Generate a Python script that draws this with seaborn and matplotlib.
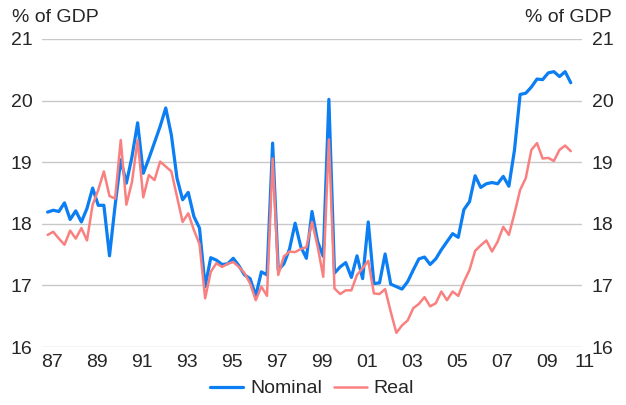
import pandas as pd
import seaborn as sns
import matplotlib.pyplot as plt

# quarterly spending, % of GDP, 1987Q1 - 2010Q2
nominal = [18.19, 18.22, 18.20, 18.34, 18.07, 18.21, 18.03, 18.25, 18.58, 18.30,
           18.30, 17.48, 18.30, 19.04, 18.66, 19.09, 19.64, 18.82, 19.06, 19.32,
           19.58, 19.88, 19.44, 18.74, 18.39, 18.51, 18.12, 17.93, 16.98, 17.45,
           17.41, 17.34, 17.35, 17.44, 17.32, 17.17, 17.11, 16.83, 17.22, 17.17,
           19.31, 17.25, 17.35, 17.59, 18.01, 17.63, 17.44, 18.20, 17.71, 17.47,
           20.02, 17.20, 17.30, 17.37, 17.13, 17.48, 17.11, 18.03, 17.03, 17.04,
           17.51, 17.02, 16.98, 16.94, 17.06, 17.25, 17.43, 17.46, 17.34, 17.43,
           17.58, 17.71, 17.84, 17.78, 18.23, 18.36, 18.78, 18.59, 18.65, 18.67,
           18.65, 18.77, 18.61, 19.20, 20.10, 20.12, 20.22, 20.35, 20.34, 20.45,
           20.47, 20.39, 20.47, 20.29]
real = [17.82, 17.87, 17.76, 17.66, 17.89, 17.76, 17.93, 17.73, 18.31, 18.55,
        18.85, 18.45, 18.41, 19.36, 18.31, 18.68, 19.36, 18.43, 18.79, 18.71,
        19.01, 18.93, 18.85, 18.44, 18.03, 18.17, 17.90, 17.67, 16.79, 17.22,
        17.36, 17.30, 17.35, 17.38, 17.30, 17.20, 17.03, 16.76, 16.98, 16.83,
        19.06, 17.17, 17.47, 17.55, 17.54, 17.59, 17.62, 18.03, 17.63, 17.14,
        19.37, 16.95, 16.86, 16.92, 16.92, 17.17, 17.28, 17.40, 16.87, 16.86,
        16.94, 16.57, 16.23, 16.35, 16.43, 16.63, 16.70, 16.81, 16.66, 16.71,
        16.90, 16.76, 16.90, 16.83, 17.06, 17.25, 17.56, 17.65, 17.73, 17.55,
        17.71, 17.95, 17.82, 18.17, 18.55, 18.74, 19.20, 19.31, 19.06, 19.07,
        19.02, 19.20, 19.27, 19.18]
year_labels = ['87', '89', '91', '93', '95', '97', '99', '01', '03', '05', '07', '09', '11']
y_ticks = [16, 17, 18, 19, 20, 21]

# quarter-end dates as fractional years
quarters = pd.period_range('1987Q1', periods=len(nominal), freq='Q')
t = [q.year + q.quarter / 4 for q in quarters]

df = pd.DataFrame({'t': t * 2,
                   'value': nominal + real,
                   'series': ['Nominal'] * len(t) + ['Real'] * len(t)})

sns.set_style('white')
plt.rcParams['font.family'] = ['Liberation Sans', 'DejaVu Sans']

fig = plt.figure(figsize=(6.26, 4.05), dpi=100)
ax = fig.add_axes([42 / 626, 1 - 347 / 405, 540 / 626, 308 / 405])

sns.lineplot(data=df, x='t', y='value', hue='series', size='series',
             sizes={'Nominal': 2.3, 'Real': 1.8},
             palette={'Nominal': '#0a7ef2', 'Real': '#fa8080'}, ax=ax)

ax.set_xlim(1987, 2011)
ax.set_ylim(16, 21)
ax.set_yticks(y_ticks)
ax.set_yticklabels([str(v) for v in y_ticks])
ax.yaxis.grid(True, color='#c8c8c8', linewidth=1)
ax.set_axisbelow(True)
for s in ax.spines.values():
    s.set_visible(False)

# year labels sit mid-year, the last one past the axis end
xpos = [1987.45 + 2 * k for k in range(len(year_labels))]
ax.set_xticks(xpos[:-1])
ax.set_xticklabels(year_labels[:-1])
ax.tick_params(axis='x', length=0, pad=5, labelsize=14)
ax.tick_params(axis='y', length=0, labelsize=14, labelleft=True, labelright=True, pad=7)
ax.annotate(year_labels[-1], xy=(2011.1, 16), xycoords='data', xytext=(0, -5),
            textcoords='offset points', ha='center', va='top', fontsize=14,
            annotation_clip=False)
ax.set_xlabel('')
ax.set_ylabel('')

fig.text(12 / 626, 1 - 17 / 405, '% of GDP', fontsize=14, va='center', ha='left')
fig.text(612 / 626, 1 - 17 / 405, '% of GDP', fontsize=14, va='center', ha='right')

handles, labels = ax.get_legend_handles_labels()
ax.legend(handles, labels, loc='center', bbox_to_anchor=(0.5, -0.135), ncol=2,
          frameon=False, fontsize=14, handlelength=1.7, handletextpad=0.35,
          columnspacing=0.6)

fig.savefig('out.png', dpi=100)
